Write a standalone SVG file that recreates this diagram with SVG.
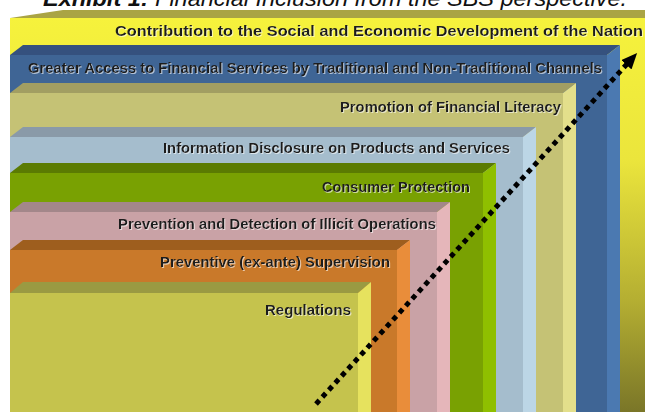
<svg xmlns="http://www.w3.org/2000/svg" width="645" height="412" viewBox="0 0 645 412">
<defs>
<style>
.lbl{font-family:"Liberation Sans",Arial,sans-serif;font-weight:bold;font-size:15px;fill:#1c1c1c;filter:url(#emb);}
.title{font-family:"Liberation Sans",Arial,sans-serif;font-style:italic;font-size:22px;fill:#111;}
</style>
<linearGradient id="gY" gradientUnits="userSpaceOnUse" x1="0" y1="18" x2="0" y2="412">
<stop offset="0" stop-color="#f6f23c"/>
<stop offset="0.36" stop-color="#ebe53c"/>
<stop offset="0.72" stop-color="#b4ae32"/>
<stop offset="1" stop-color="#7a7628"/>
</linearGradient>
<filter id="emb" x="-5%" y="-30%" width="110%" height="160%">
<feDropShadow dx="1" dy="1" stdDeviation="0.5" flood-color="#ffffff" flood-opacity="0.6"/>
</filter>
<marker id="ah" markerUnits="userSpaceOnUse" markerWidth="16" markerHeight="14" viewBox="0 0 16 14" refX="1" refY="7" orient="auto">
<path d="M0,0 L16,7 L0,14 z" fill="#000"/>
</marker>
</defs>
<rect width="645" height="412" fill="#ffffff"/>
<text class="title" x="43" y="6" textLength="584" lengthAdjust="spacingAndGlyphs"><tspan font-weight="bold">Exhibit 1:</tspan> Financial Inclusion from the SBS perspective.</text>

<g id="contribution">
<polygon points="10,18 63,10 645,10 645,18" fill="#aaa444"/>
<rect x="10" y="18" width="635" height="394" fill="url(#gY)"/>
<text class="lbl" x="115" y="36" font-size="16" textLength="528" lengthAdjust="spacingAndGlyphs">Contribution to the Social and Economic Development of the Nation</text>
</g>

<g id="access">
<polygon points="10,55 23,45 620,45 607,55" fill="#35517e"/>
<rect x="10" y="55" width="597" height="357" fill="#3f6595"/>
<polygon points="607,55 620,45 620,412 607,412" fill="#4b79b1"/>
<text class="lbl" x="28" y="73" textLength="574" lengthAdjust="spacingAndGlyphs">Greater Access to Financial Services by Traditional and Non-Traditional Channels</text>
</g>

<g id="literacy">
<polygon points="10,93 23,83 576,83 563,93" fill="#a29e62"/>
<rect x="10" y="93" width="553" height="319" fill="#c5c275"/>
<polygon points="563,93 576,83 576,412 563,412" fill="#e3df8b"/>
<text class="lbl" x="340" y="112" textLength="221" lengthAdjust="spacingAndGlyphs">Promotion of Financial Literacy</text>
</g>

<g id="disclosure">
<polygon points="10,137 23,127 536,127 523,137" fill="#8a9aa8"/>
<rect x="10" y="137" width="513" height="275" fill="#a5bdcd"/>
<polygon points="523,137 536,127 536,412 523,412" fill="#bcd6e6"/>
<text class="lbl" x="163" y="153" textLength="347" lengthAdjust="spacingAndGlyphs">Information Disclosure on Products and Services</text>
</g>

<g id="consumer">
<polygon points="10,173 23,163 496,163 483,173" fill="#5b7b02"/>
<rect x="10" y="173" width="473" height="239" fill="#79a102"/>
<polygon points="483,173 496,163 496,412 483,412" fill="#8fbf00"/>
<text class="lbl" x="322" y="192" textLength="148" lengthAdjust="spacingAndGlyphs">Consumer Protection</text>
</g>

<g id="illicit">
<polygon points="10,212 23,202 450,202 437,212" fill="#a3878a"/>
<rect x="10" y="212" width="427" height="200" fill="#c9a2a6"/>
<polygon points="437,212 450,202 450,412 437,412" fill="#e5b6ba"/>
<text class="lbl" x="118" y="229" textLength="318" lengthAdjust="spacingAndGlyphs">Prevention and Detection of Illicit Operations</text>
</g>

<g id="supervision">
<polygon points="10,250 23,240 410,240 397,250" fill="#9e5e1e"/>
<rect x="10" y="250" width="387" height="162" fill="#c9792a"/>
<polygon points="397,250 410,240 410,412 397,412" fill="#e98d3a"/>
<text class="lbl" x="160" y="267" textLength="230" lengthAdjust="spacingAndGlyphs">Preventive (ex-ante) Supervision</text>
</g>

<g id="regulations">
<polygon points="10,293 23,282 371,282 358,293" fill="#9a9a42"/>
<rect x="10" y="293" width="348" height="119" fill="#c5c34d"/>
<polygon points="358,293 371,282 371,412 358,412" fill="#e6e25e"/>
<text class="lbl" x="265" y="315" textLength="86" lengthAdjust="spacingAndGlyphs">Regulations</text>
</g>

<g id="connectors">
<line x1="316" y1="404" x2="627" y2="64" stroke="#000" stroke-width="5" stroke-dasharray="5 4.5" marker-end="url(#ah)"/>
</g>
</svg>
